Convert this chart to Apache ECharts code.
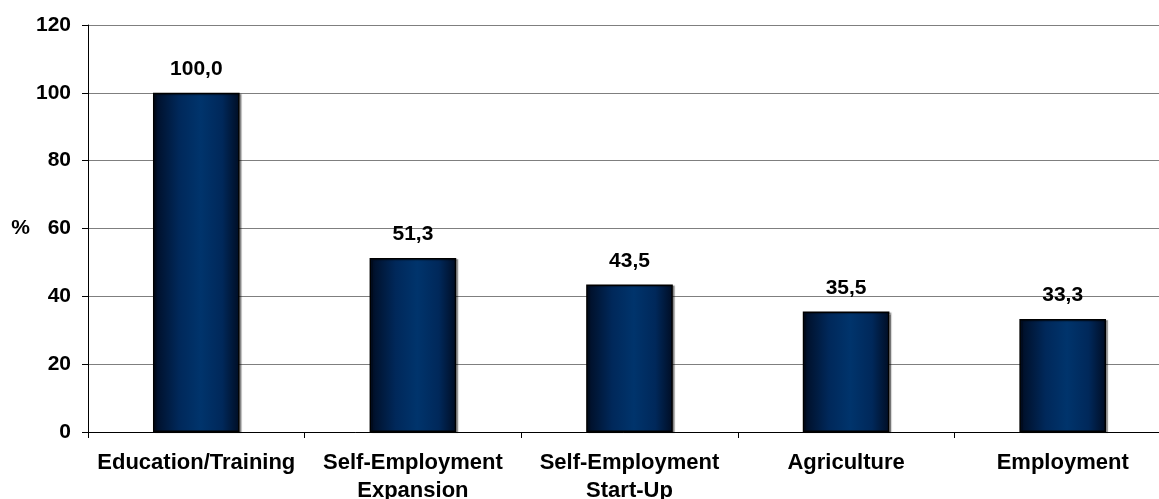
<!DOCTYPE html>
<html>
<head>
<meta charset="utf-8">
<script src="https://cdn.jsdelivr.net/npm/echarts@6/dist/echarts.min.js"></script>
<style>html,body{margin:0;padding:0;background:#fff}#c{width:1159px;height:499px}</style>
</head>
<body>
<div id="c"></div>
<script>
const categories = ['Education/Training', 'Self-Employment\nExpansion', 'Self-Employment\nStart-Up', 'Agriculture', 'Employment'];
const values = [100.0, 51.3, 43.5, 35.5, 33.3];
const yTicks = [0, 20, 40, 60, 80, 100, 120];
const yName = '%';

const font = '"Liberation Sans", Arial, sans-serif';
const chart = echarts.init(document.getElementById('c'), null, {renderer: 'canvas'});
chart.setOption({
  animation: false,
  backgroundColor: '#ffffff',
  grid: {left: 88, right: -12, top: 25, bottom: 67, containLabel: false, outerBoundsMode: 'none'},
  xAxis: {
    type: 'category',
    data: categories,
    axisLine: {lineStyle: {color: '#000', width: 1}},
    axisTick: {show: true, length: 6, lineStyle: {color: '#000'}},
    axisLabel: {color: '#000', fontFamily: font, fontWeight: 'bold', fontSize: 22, margin: 17, lineHeight: 28, interval: 0, hideOverlap: false}
  },
  yAxis: {
    type: 'value',
    min: yTicks[0],
    max: yTicks[yTicks.length - 1],
    interval: 20,
    name: yName,
    nameLocation: 'middle',
    nameRotate: 0,
    nameGap: 58,
    nameTextStyle: {color: '#000', fontFamily: font, fontWeight: 'bold', fontSize: 21},
    axisLine: {show: true, lineStyle: {color: '#000', width: 1}},
    axisTick: {show: true, length: 6, lineStyle: {color: '#000'}},
    axisLabel: {color: '#000', fontFamily: font, fontWeight: 'bold', fontSize: 21, margin: 17},
    splitLine: {show: true, lineStyle: {color: '#7f7f7f', width: 1}}
  },
  series: [{
    type: 'bar',
    data: values,
    barWidth: '40%',
    itemStyle: {
      color: new echarts.graphic.LinearGradient(0, 0, 1, 0, [
        {offset: 0, color: '#000d24'},
        {offset: 0.3, color: '#00285a'},
        {offset: 0.55, color: '#00346c'},
        {offset: 0.8, color: '#00285a'},
        {offset: 1, color: '#000d24'}
      ]),
      borderColor: '#000',
      borderWidth: 1.5,
      shadowColor: 'rgba(0,0,0,0.35)',
      shadowOffsetX: 2,
      shadowOffsetY: 1,
      shadowBlur: 1
    },
    label: {
      show: true,
      position: 'top',
      distance: 13,
      color: '#000',
      fontFamily: font,
      fontWeight: 'bold',
      fontSize: 21,
      formatter: p => p.value.toFixed(1).replace('.', ',')
    }
  }]
});
</script>
</body>
</html>
